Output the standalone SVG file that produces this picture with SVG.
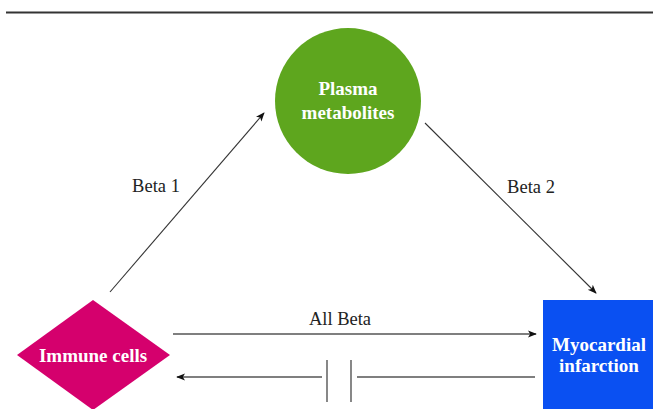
<svg xmlns="http://www.w3.org/2000/svg" width="653" height="409" viewBox="0 0 653 409">
<style>
.lbl{font-size:18.5px;fill:#222;}
.nd{font-size:19px;font-weight:bold;fill:#fff;text-anchor:middle;}
.ln{stroke:#333;stroke-width:1.1;fill:none;}
.ln2{stroke:#555;stroke-width:1.4;fill:none;}
</style>
<defs>
<marker id="ah" viewBox="0 0 10 10" refX="9" refY="5" markerWidth="9" markerHeight="9" markerUnits="userSpaceOnUse" orient="auto">
<path d="M0,1 L10,5 L0,9 L2.5,5 Z" fill="#111"/>
</marker>
</defs>
<rect width="653" height="409" fill="#fff"/>
<line x1="6" y1="12.5" x2="653" y2="12.5" stroke="#333" stroke-width="2"/>
<g id="connectors" font-family="Liberation Serif, serif">
<line class="ln" x1="110" y1="292" x2="264" y2="113" marker-end="url(#ah)"/>
<line class="ln" x1="425" y1="123" x2="596" y2="293" marker-end="url(#ah)"/>
<line class="ln2" x1="173" y1="334" x2="536" y2="334" marker-end="url(#ah)"/>
<line class="ln2" x1="535" y1="377" x2="357" y2="377"/>
<line class="ln2" x1="322" y1="377" x2="177" y2="377" marker-end="url(#ah)"/>
<line class="ln2" x1="327" y1="360" x2="327" y2="402"/>
<line class="ln2" x1="351" y1="360" x2="351" y2="402"/>
<text class="lbl" x="156" y="192" text-anchor="middle">Beta 1</text>
<text class="lbl" x="531" y="193" text-anchor="middle">Beta 2</text>
<text class="lbl" x="340" y="325" text-anchor="middle">All Beta</text>
</g>
<g id="plasma" font-family="Liberation Serif, serif">
<circle cx="348" cy="101" r="73" fill="#5ea61e"/>
<text class="nd" x="348" y="95">Plasma</text>
<text class="nd" x="348" y="119">metabolites</text>
</g>
<g id="immune" font-family="Liberation Serif, serif">
<polygon points="93,300 170,355 93,410 17,355" fill="#d5006d"/>
<text class="nd" x="93" y="362">Immune cells</text>
</g>
<g id="mi" font-family="Liberation Serif, serif">
<rect x="543" y="300" width="115" height="115" fill="#0a50f2"/>
<text class="nd" x="599" y="351">Myocardial</text>
<text class="nd" x="599" y="372">infarction</text>
</g>
</svg>
